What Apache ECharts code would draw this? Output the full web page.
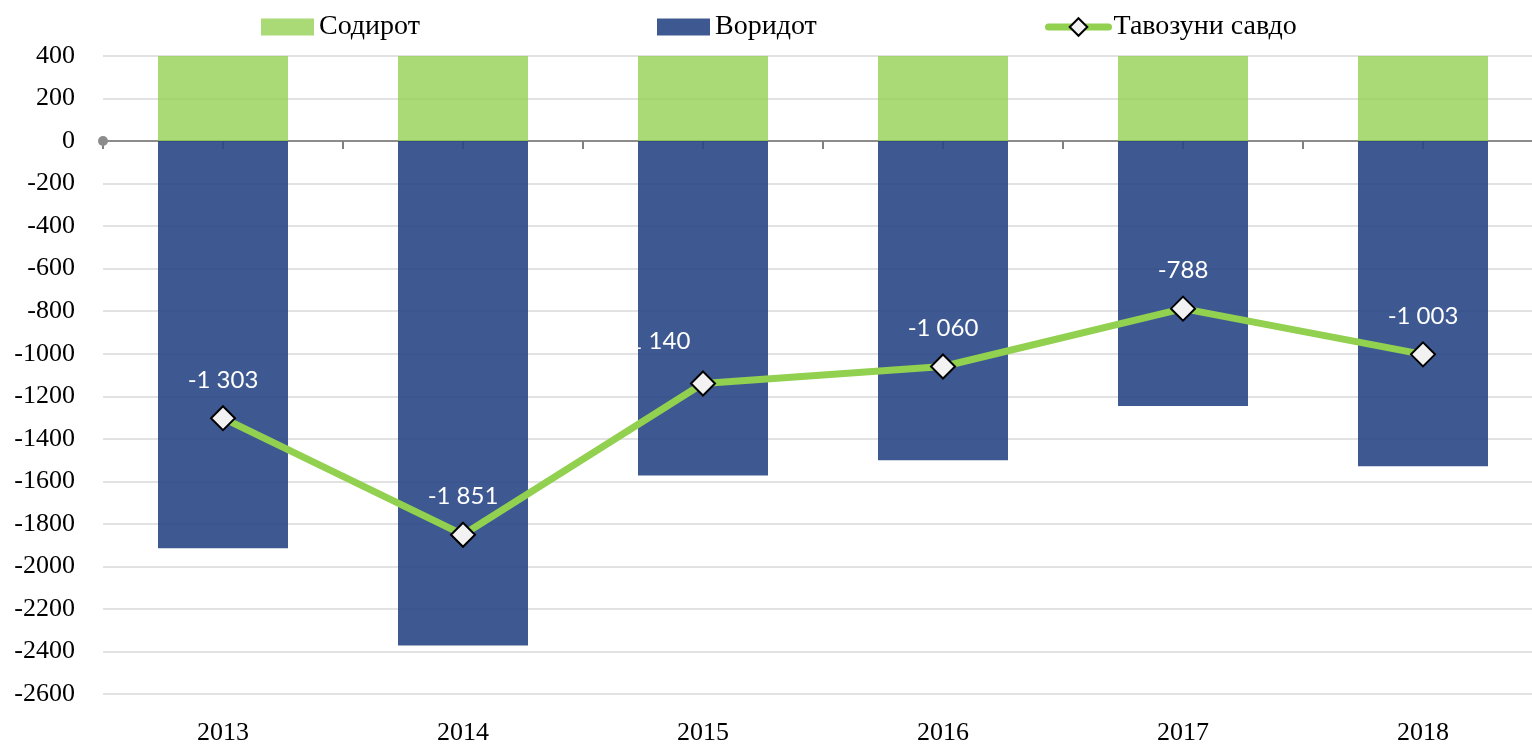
<!DOCTYPE html>
<html>
<head>
<meta charset="utf-8">
<script src="https://cdn.jsdelivr.net/npm/echarts@6/dist/echarts.min.js"></script>
<style>
  html, body { margin: 0; padding: 0; background: #fff; }
  #chartTrade { width: 1532px; height: 745px; }
</style>
</head>
<body>
<div id="chartTrade"></div>
<script>
var years = ["2013", "2014", "2015", "2016", "2017", "2018"];
var exportsVals = [612, 521, 432, 441, 458, 526];
var importsVals = [-1915, -2372, -1572, -1501, -1246, -1529];
var balanceVals = [-1303, -1851, -1140, -1060, -788, -1003];
var halfTicks = ["", "", "", "", "", "", "", "", "", "", "", ""];

function fmtNum(v) {
  var s = String(Math.abs(v)).replace(/\B(?=(\d{3})+(?!\d))/g, " ");
  return (v < 0 ? "-" : "") + s;
}

function InitTrade() {
  var myChart = echarts.init(document.getElementById("chartTrade"));
  var serif = "Liberation Serif";
  var legendText = { fontFamily: serif, fontSize: 28, color: "#000" };

  // 2015 label sits left of its point in the original
  var balanceData = balanceVals.map(function (v, i) {
    if (i === 2) return { value: v, label: { offset: [-48, -4] } };
    return v;
  });

  var option = {
    animation: false,
    legend: [
      {
        top: 8, left: 256, itemWidth: 53, itemHeight: 17, itemGap: 4,
        textStyle: legendText,
        data: [{ name: "Содирот", icon: "rect" }],
      },
      {
        top: 8, left: 652, itemWidth: 53, itemHeight: 17, itemGap: 4,
        textStyle: legendText,
        data: [{ name: "Воридот", icon: "rect" }],
      },
      {
        top: 8, left: 1040, itemWidth: 60, itemHeight: 22, itemGap: 4,
        textStyle: legendText,
        data: [
          {
            name: "Тавозуни савдо",
            lineStyle: { width: 7, color: "#92d050", cap: "round" },
            itemStyle: { color: "#f2f2f2", borderColor: "#000", borderWidth: 2 },
          },
        ],
      },
    ],
    grid: {
      left: 103,
      top: 56,
      width: 1440,
      bottom: 51,
      outerBoundsMode: "none",
    },
    xAxis: [
      {
        type: "category",
        data: years,
        position: "bottom",
        axisLine: { show: false, onZero: false },
        axisTick: { show: false },
        axisLabel: {
          margin: 26,
          fontFamily: serif,
          fontSize: 26,
          color: "#000",
        },
      },
      {
        type: "category",
        data: halfTicks,
        position: "bottom",
        boundaryGap: true,
        axisLine: {
          onZero: true,
          onZeroAxisIndex: 0,
          symbol: ["circle", "none"],
          symbolSize: [10, 10],
          lineStyle: { color: "#8c8c8c", width: 2 },
        },
        axisTick: {
          show: true,
          interval: 0,
          length: 8,
          lineStyle: { color: "#808080", width: 2 },
        },
        axisLabel: { show: false },
        splitLine: { show: false },
      },
    ],
    yAxis: {
      type: "value",
      min: -2600,
      max: 400,
      interval: 200,
      axisLine: { show: false },
      axisTick: { show: false },
      axisLabel: {
        margin: 28,
        fontFamily: serif,
        fontSize: 26,
        color: "#000",
        formatter: function (v) {
          return String(v);
        },
      },
      splitLine: { lineStyle: { color: "#d9d9d9", width: 1.5 } },
    },
    series: [
      {
        name: "Содирот",
        type: "bar",
        stack: "trade",
        xAxisIndex: 0,
        barWidth: 130,
        clip: true,
        itemStyle: { color: "rgba(146,208,80,0.78)" },
        data: exportsVals,
      },
      {
        name: "Воридот",
        type: "bar",
        stack: "trade",
        xAxisIndex: 0,
        barWidth: 130,
        clip: true,
        itemStyle: { color: "rgba(41,71,133,0.9)" },
        data: importsVals,
      },
      {
        name: "Тавозуни савдо",
        type: "line",
        xAxisIndex: 0,
        z: 5,
        symbol: "diamond",
        symbolSize: 24,
        lineStyle: { color: "#92d050", width: 7 },
        itemStyle: { color: "#f2f2f2", borderColor: "#000", borderWidth: 2 },
        label: {
          show: true,
          position: "top",
          distance: 13,
          color: "#fff",
          fontFamily: "Lato",
          fontSize: 24,
          formatter: function (p) {
            return fmtNum(p.value);
          },
        },
        data: balanceData,
      },
    ],
  };
  myChart.setOption(option);
}

InitTrade();
</script>
</body>
</html>
